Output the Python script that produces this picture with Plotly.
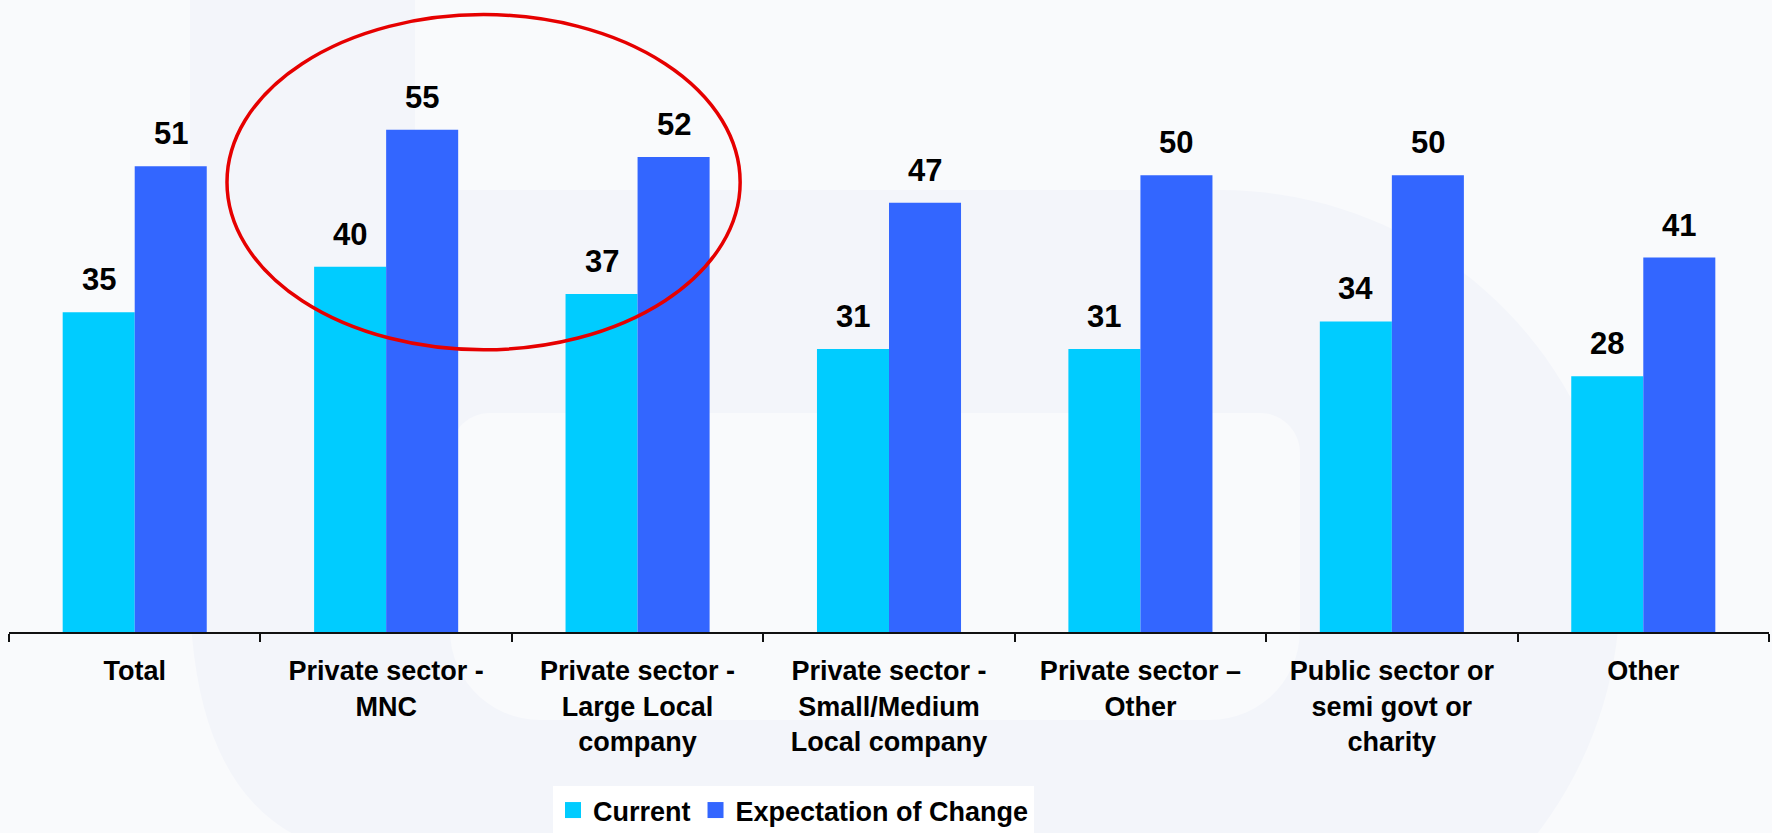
import numpy as np
import plotly.graph_objects as go

# Survey groups and their scores
categories = [
    "Total",
    "Private sector -<br>MNC",
    "Private sector -<br>Large Local<br>company",
    "Private sector -<br>Small/Medium<br>Local company",
    "Private sector \u2013<br>Other",
    "Public sector or<br>semi govt or<br>charity",
    "Other",
]
current = [35, 40, 37, 31, 31, 34, 28]
expectation = [51, 55, 52, 47, 50, 50, 41]

series_names = ["Current", "Expectation of Change"]
series_colors = ["#00CCFF", "#3366FF"]

W, H = 1772, 833
M_L, M_R, M_T, M_B = 9, 3, 0, 201
PLOT_W = W - M_L - M_R
PLOT_H = H - M_T - M_B
Y_MAX = 69.2

FONT = "Liberation Sans, Arial, sans-serif"


def to_paper(x, y):
    """Pixel position on the page -> paper coordinates of the plot area."""
    return (x - M_L) / PLOT_W, (H - M_B - y) / PLOT_H


def poly_path(points):
    pts = [to_paper(x, y) for x, y in points]
    return "M" + "L".join(f"{a:.5f},{b:.5f}" for a, b in pts) + "Z"


# Soft background emblem: a tall stem joined to a rounded bowl
outer = [(190, -5), (415, -5), (415, 190), (1220, 190)]
theta = np.linspace(-np.pi / 2, np.arcsin((840 - 590) / 400), 60)
outer += [(1220 + 400 * np.cos(t), 590 + 400 * np.sin(t)) for t in theta]
outer += [(305, 840)]
# rounded lower-left edge of the stem
for t in np.linspace(0, 1, 20):
    p0, p1, p2 = np.array([305, 840]), np.array([195, 790]), np.array([190, 600])
    q = (1 - t) ** 2 * p0 + 2 * (1 - t) * t * p1 + t ** 2 * p2
    outer.append(tuple(q))


def rounded_rect(x0, y0, x1, y1, r_top, r_bot, n=16):
    pts = []
    def arc(cx, cy, r, a0, a1):
        return [(cx + r * np.cos(a), cy + r * np.sin(a)) for a in np.linspace(a0, a1, n)]
    pts += arc(x0 + r_top, y0 + r_top, r_top, np.pi, 1.5 * np.pi)
    pts += arc(x1 - r_top, y0 + r_top, r_top, 1.5 * np.pi, 2 * np.pi)
    pts += arc(x1 - r_bot, y1 - r_bot, r_bot, 0, 0.5 * np.pi)
    pts += arc(x0 + r_bot, y1 - r_bot, r_bot, 0.5 * np.pi, np.pi)
    return pts


inner = rounded_rect(450, 413, 1300, 720, 40, 90)

shapes = [
    dict(type="path", path=poly_path(outer), xref="paper", yref="paper",
         fillcolor="#F3F5FA", line=dict(width=0), layer="below"),
    dict(type="path", path=poly_path(inner), xref="paper", yref="paper",
         fillcolor="#F9FAFC", line=dict(width=0), layer="below"),
    # highlight around the two large private-sector groups
    dict(type="circle", xref="x", yref="y", x0=0.367, x1=2.408, y0=30.9, y1=67.6,
         line=dict(color="#E60000", width=3.5), fillcolor="rgba(0,0,0,0)", layer="above"),
]

fig = go.Figure()
for name, vals, col in zip(series_names, [current, expectation], series_colors):
    fig.add_trace(go.Bar(
        x=categories, y=vals, name=name, marker=dict(color=col, line=dict(width=0)),
        showlegend=False, hoverinfo="skip",
    ))
    # legend swatch
    fig.add_trace(go.Scatter(
        x=[None], y=[None], mode="markers", name=name,
        marker=dict(symbol="square", size=16, color=col), showlegend=True,
    ))

annotations = []
for vals, dx in [(current, -36), (expectation, 36)]:
    for cat, v in zip(categories, vals):
        annotations.append(dict(
            x=cat, y=v, xref="x", yref="y", text=str(v), showarrow=False,
            xanchor="center", yanchor="bottom", xshift=dx, yshift=13,
            font=dict(family=FONT, size=31, color="#000000", weight="bold"),
        ))

fig.update_layout(
    width=W, height=H,
    margin=dict(l=M_L, r=M_R, t=M_T, b=M_B, pad=0),
    paper_bgcolor="#F9FAFC",
    plot_bgcolor="rgba(0,0,0,0)",
    barmode="group", bargap=0.427, bargroupgap=0,
    shapes=shapes,
    annotations=annotations,
    font=dict(family=FONT, color="#000000"),
    legend=dict(
        orientation="h", xref="container", yref="container",
        x=553 / W, xanchor="left", y=(H - 786) / H, yanchor="top",
        bgcolor="#FFFFFF", borderwidth=0,
        font=dict(family=FONT, size=27, color="#000000", weight="bold"),
        itemwidth=30, tracegroupgap=0,
    ),
    xaxis=dict(
        type="category", showgrid=False, zeroline=False,
        showline=True, linecolor="#111111", linewidth=2,
        ticks="outside", tickson="boundaries", ticklen=8, tickwidth=1.5, tickcolor="#111111",
        tickfont=dict(family=FONT, size=27, color="#000000", weight="bold"),
        tickangle=0, ticklabelstandoff=14,
    ),
    yaxis=dict(range=[0, Y_MAX], visible=False, showgrid=False, zeroline=False),
)

fig.write_html("out.html")
